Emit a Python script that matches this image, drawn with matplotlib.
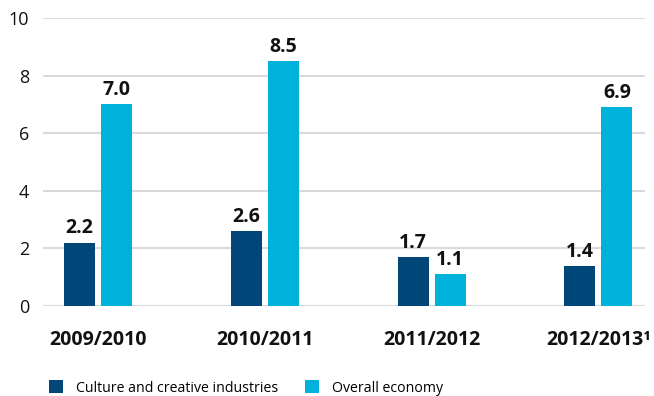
import matplotlib.pyplot as plt
import numpy as np

plt.rcParams['font.family'] = ['Open Sans', 'DejaVu Sans']

# Veränderung der Erwerbstätigen gegenüber Vorjahr
years = ['2009/2010', '2010/2011', '2011/2012', '2012/2013¹']
culture = [2.2, 2.6, 1.7, 1.4]
economy = [7.0, 8.5, 1.1, 6.9]
series_names = ['Culture and creative industries', 'Overall economy']

dark_blue = '#004678'
light_blue = '#00b1db'

fig = plt.figure(figsize=(6.54, 3.96), dpi=100)
ax = fig.add_axes([43 / 654, 90 / 396, 602 / 654, 288 / 396])

x = np.arange(len(years))
w = 0.186
off = 0.111
b1 = ax.bar(x - off, culture, w, color=dark_blue, label=series_names[0], zorder=3)
b2 = ax.bar(x + off, economy, w, color=light_blue, label=series_names[1], zorder=3)

for bars in (b1, b2):
    ax.bar_label(bars, fmt='%.1f', padding=3, fontsize=14, fontweight='bold', color='#111111')

ax.set_xlim(-0.33, 3.28)
ax.set_ylim(0, 10)
ax.set_yticks([0, 2, 4, 6, 8, 10])
ax.yaxis.grid(True, color='#d9dadb', linewidth=1.5, zorder=0)
ax.set_axisbelow(True)
for s in ax.spines.values():
    s.set_visible(False)

ax.set_xticks(x)
ax.set_xticklabels(years, fontsize=14, fontweight='bold', color='#111111')
ax.tick_params(axis='x', length=0, pad=17)
ax.tick_params(axis='y', length=0, pad=10, labelsize=13, labelcolor='#111111')

fig.legend(handles=[b1, b2], loc='center left', bbox_to_anchor=(0.066, 0.02),
           ncol=2, frameon=False, fontsize=10.2, handlelength=1.0, handleheight=1.0,
           handletextpad=0.9, columnspacing=1.9, borderaxespad=0)

fig.savefig('out.png', dpi=100)
